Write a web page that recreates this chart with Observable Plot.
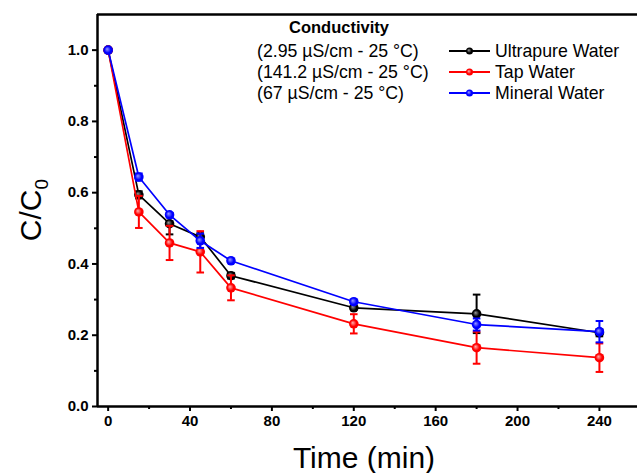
<!DOCTYPE html>
<html>
<head>
<meta charset="utf-8">
<script src="https://cdn.jsdelivr.net/npm/d3@7"></script>
<script src="https://cdn.jsdelivr.net/npm/@observablehq/plot@0.6"></script>
<style>
  html, body { margin: 0; padding: 0; background: #fff; }
  #wrap { position: relative; width: 638px; height: 473px; font-family: "Liberation Sans", Arial, sans-serif; }
  #legend { position: absolute; left: 0; top: 0; width: 638px; height: 110px; pointer-events: none; }
</style>
</head>
<body>
<div id="wrap"></div>
<script>
// ---- data ----
const times = [0, 15, 30, 45, 60, 120, 180, 240];
const seriesNames = ["Ultrapure Water", "Tap Water", "Mineral Water"];
const conductivity = ["(2.95 µS/cm - 25 °C)", "(141.2 µS/cm - 25 °C)", "(67 µS/cm - 25 °C)"];
const seriesColors = ["#000000", "#ff0000", "#0000ff"];
const ultrapure = [1.0, 0.594, 0.513, 0.476, 0.367, 0.277, 0.260, 0.207];
const ultrapureErr = [0.0, 0.010, 0.030, 0.010, 0.008, 0.006, 0.054, 0.010];
const tap = [1.0, 0.546, 0.459, 0.434, 0.333, 0.232, 0.165, 0.137];
const tapErr = [0.0, 0.045, 0.048, 0.058, 0.035, 0.027, 0.045, 0.040];
const mineral = [1.0, 0.644, 0.538, 0.465, 0.409, 0.294, 0.230, 0.210];
const mineralErr = [0.0, 0.010, 0.005, 0.020, 0.005, 0.005, 0.017, 0.030];
const xMajorTicks = [0, 40, 80, 120, 160, 200, 240];
const xMinorTicks = [20, 60, 100, 140, 180, 220];
const yMajorTicks = [0, 0.2, 0.4, 0.6, 0.8, 1.0];
const yMinorTicks = [0.1, 0.3, 0.5, 0.7, 0.9];
const xDomain = [-5.2, 258.6];
const yDomain = [0, 1.1];

const allValues = [ultrapure, tap, mineral];
const allErr = [ultrapureErr, tapErr, mineralErr];
const rows = [];
seriesNames.forEach((name, s) => {
  times.forEach((t, i) => {
    rows.push({series: name, s, t, v: allValues[s][i], e: allErr[s][i]});
  });
});
const gradIds = ["gBlack", "gRed", "gBlue"];

const capSymbol = {
  draw(ctx, size) { ctx.moveTo(-3.8, 0); ctx.lineTo(3.8, 0); }
};

const marks = [];
seriesNames.forEach((name, s) => {
  const d = rows.filter(r => r.s === s);
  const ed = d.filter(r => r.e > 0);
  marks.push(
    Plot.line(d, {x: "t", y: "v", stroke: seriesColors[s], strokeWidth: 1.7}),
    Plot.ruleX(ed, {x: "t", y1: r => r.v - r.e, y2: r => r.v + r.e, stroke: seriesColors[s], strokeWidth: 2}),
    Plot.dot(ed, {x: "t", y: r => r.v - r.e, symbol: capSymbol, stroke: seriesColors[s], strokeWidth: 2, r: 4}),
    Plot.dot(ed, {x: "t", y: r => r.v + r.e, symbol: capSymbol, stroke: seriesColors[s], strokeWidth: 2, r: 4}),
    Plot.dot(d, {x: "t", y: "v", r: 4.8, fill: `url(#${gradIds[s]})`, stroke: "none"})
  );
});

const tickFont = {fontSize: 15, fontWeight: "bold"};
const chart = Plot.plot({
  width: 638,
  height: 473,
  marginLeft: 97,
  marginRight: 1,
  marginTop: 14,
  marginBottom: 67,
  style: {fontFamily: "'Liberation Sans', Arial, sans-serif", background: "#fff", color: "#000"},
  x: {domain: xDomain, label: null},
  y: {domain: yDomain, label: null},
  marks: [
    Plot.axisX(xMajorTicks, {tickSize: 5, tickPadding: 4, strokeWidth: 2, ...tickFont, label: null}),
    Plot.axisX(xMinorTicks, {tickSize: 3, text: null, strokeWidth: 2, label: null}),
    Plot.axisY(yMajorTicks, {tickSize: 5, tickPadding: 4, strokeWidth: 2, tickFormat: d3.format(".1f"), ...tickFont, label: null}),
    Plot.axisY(yMinorTicks, {tickSize: 3, text: null, strokeWidth: 2, label: null}),
    Plot.ruleY([yDomain[0]], {stroke: "#000", strokeWidth: 2.5}),
    Plot.ruleY([yDomain[1]], {stroke: "#000", strokeWidth: 2.5}),
    Plot.ruleX([xDomain[0]], {stroke: "#000", strokeWidth: 2.5}),
    ...marks
  ]
});

const svg = d3.select(chart);
const defs = svg.insert("defs", ":first-child");
const gradColors = [["#9a9a9a", "#000000"], ["#ffb0b0", "#ff0000"], ["#9a9aff", "#0000ff"]];
gradIds.forEach((id, i) => {
  const g = defs.append("radialGradient").attr("id", id).attr("cx", "50%").attr("cy", "50%").attr("r", "55%").attr("fx", "38%").attr("fy", "38%");
  g.append("stop").attr("offset", "0%").attr("stop-color", gradColors[i][0]);
  g.append("stop").attr("offset", "60%").attr("stop-color", gradColors[i][1]);
  g.append("stop").attr("offset", "100%").attr("stop-color", gradColors[i][1]);
});

// axis titles
const yl = svg.append("text").attr("transform", "translate(41,210) rotate(-90)").attr("text-anchor", "middle")
  .attr("font-size", 30).attr("font-family", "'Liberation Sans', Arial, sans-serif").attr("fill", "#000");
yl.append("tspan").text("C/C");
yl.append("tspan").attr("font-size", 19).attr("dy", 7).text("0");
svg.append("text").attr("x", 364).attr("y", 468).attr("text-anchor", "middle")
  .attr("font-size", 30).attr("font-family", "'Liberation Sans', Arial, sans-serif").attr("fill", "#000").text("Time (min)");

const wrap = document.getElementById("wrap");
wrap.appendChild(chart);

// legend overlay
const lg = d3.select(wrap).append("svg").attr("id", "legend").attr("width", 638).attr("height", 110);
lg.append("text").attr("x", 339).attr("y", 33).attr("text-anchor", "middle").attr("font-weight", "bold")
  .attr("font-size", 16.5).attr("font-family", "'Liberation Sans', Arial, sans-serif").text("Conductivity");
const rowY = [51, 72, 93];
seriesNames.forEach((name, s) => {
  const y = rowY[s];
  lg.append("text").attr("x", 257).attr("y", y + 6).attr("font-size", 17.7)
    .attr("font-family", "'Liberation Sans', Arial, sans-serif").text(conductivity[s]);
  lg.append("line").attr("x1", 449).attr("x2", 490).attr("y1", y).attr("y2", y)
    .attr("stroke", seriesColors[s]).attr("stroke-width", 2);
  lg.append("circle").attr("cx", 469.5).attr("cy", y).attr("r", 3.5).attr("fill", `url(#${gradIds[s]})`);
  lg.append("text").attr("x", 495).attr("y", y + 6).attr("font-size", 17.7)
    .attr("font-family", "'Liberation Sans', Arial, sans-serif").text(name);
});
</script>
</body>
</html>
